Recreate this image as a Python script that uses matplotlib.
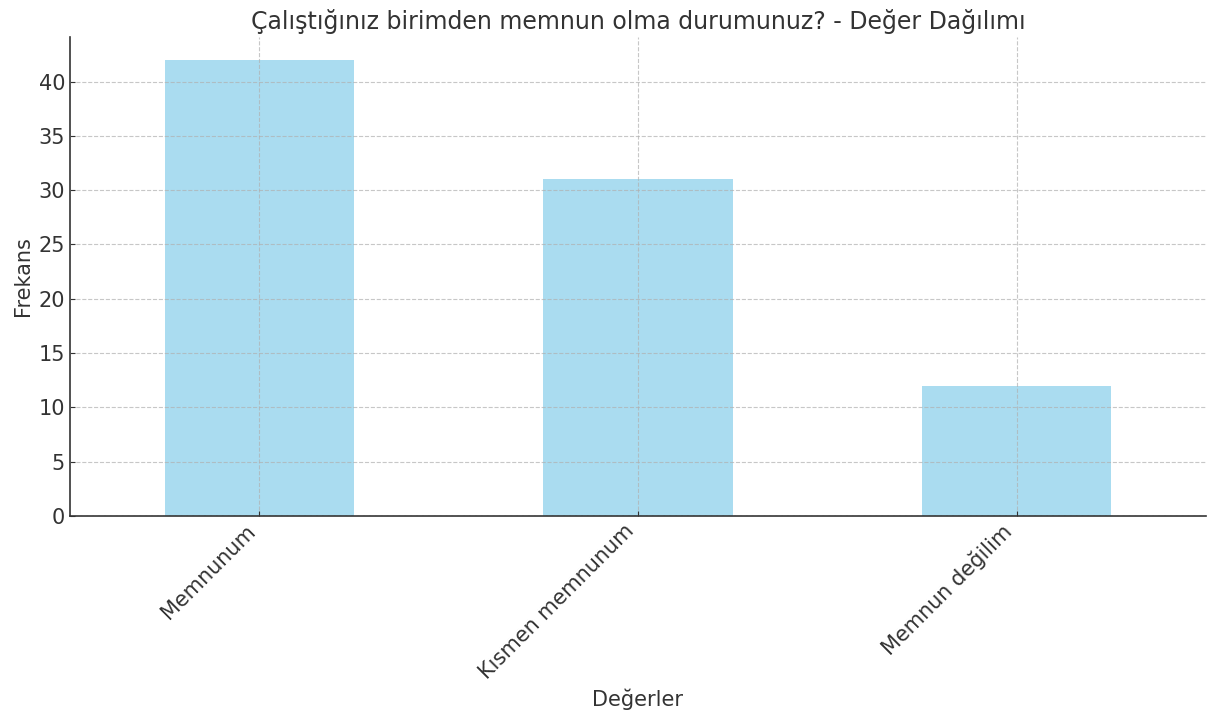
import matplotlib
matplotlib.use("Agg")
import matplotlib.pyplot as plt

categories = ["Memnunum", "Kısmen memnunum", "Memnun değilim"]
values = [42, 31, 12]
title = "Çalıştığınız birimden memnun olma durumunuz? - Değer Dağılımı"

plt.rcParams['font.family'] = ['DejaVu Sans']
txt = '#333333'

fig = plt.figure(figsize=(12.19, 7.2), dpi=100)
ax = fig.add_axes([0.0574, 0.2833, 0.9319, 0.6653])
x = list(range(len(categories)))
ax.bar(x, values, width=0.5, color='skyblue', alpha=0.7)
ax.set_xlim(-0.5, len(categories) - 0.5)
ax.set_ylim(0, 44.1)
ax.set_xticks(x)
ax.set_xticklabels(categories, rotation=45, ha='right', fontsize=15, color=txt)
ax.set_yticks(range(0, 45, 5))
ax.tick_params(axis='y', labelsize=15, labelcolor=txt, direction='in', color=txt)
ax.tick_params(axis='x', direction='in', color=txt)
ax.grid(True, linestyle='--', color='#b0b0b0', alpha=0.7)
ax.set_axisbelow(False)
for s in ['top', 'right']:
    ax.spines[s].set_visible(False)
for s in ['left', 'bottom']:
    ax.spines[s].set_color(txt)
    ax.spines[s].set_linewidth(1.2)
ax.set_title(title, fontsize=17, color=txt, pad=6)
ax.set_xlabel("Değerler", fontsize=15, color=txt)
ax.set_ylabel("Frekans", fontsize=15, color=txt)
fig.savefig("out.png", dpi=100)
